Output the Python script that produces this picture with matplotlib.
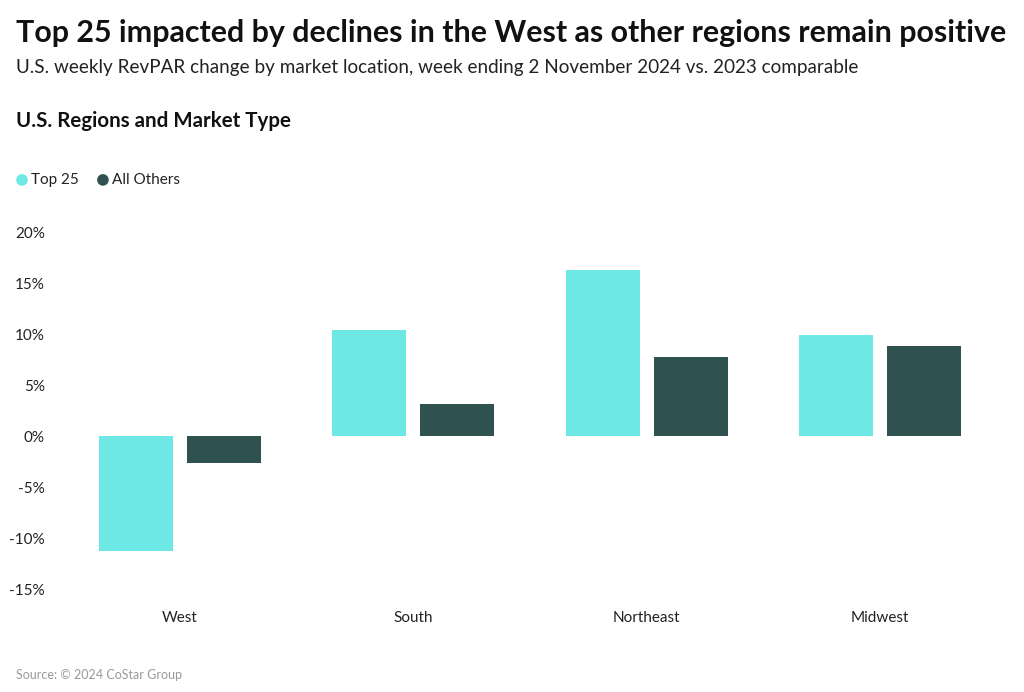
import numpy as np
import matplotlib.pyplot as plt

plt.rcParams['font.family'] = ['Lato', 'DejaVu Sans']

regions = ['West', 'South', 'Northeast', 'Midwest']
top25 = [-11.3, 10.5, 16.4, 10.0]
others = [-2.6, 3.2, 7.8, 8.9]
yticks = [-15, -10, -5, 0, 5, 10, 15, 20]

C_TOP = '#6de8e5'
C_OTH = '#2f5250'

fig = plt.figure(figsize=(10.24, 6.92), dpi=100, facecolor='white')
ax = fig.add_axes([0.0615, 0.1488, 0.912, 0.5145])

x = np.arange(len(regions))
w = 0.317
ax.bar(x - 0.188, top25, w, color=C_TOP)
ax.bar(x + 0.188, others, w, color=C_OTH)

ax.set_xlim(-0.5, len(regions) - 0.5)
ax.set_ylim(-15, 20)
ax.set_yticks(yticks)
ax.set_yticklabels([f'{v}%' for v in yticks])
ax.set_xticks(x)
ax.set_xticklabels(regions)
for s in ax.spines.values():
    s.set_visible(False)
ax.tick_params(length=0, labelsize=11, colors='#222222')
ax.tick_params(axis='y', pad=13)
ax.tick_params(axis='x', pad=16)

fig.text(0.016, 0.952, 'Top 25 impacted by declines in the West as other regions remain positive',
         fontsize=21.9, fontweight='bold', va='center', color='#111111')
fig.text(0.016, 0.903, 'U.S. weekly RevPAR change by market location, week ending 2 November 2024 vs. 2023 comparable',
         fontsize=13.6, va='center', color='#222222')
fig.text(0.016, 0.825, 'U.S. Regions and Market Type',
         fontsize=14.8, fontweight='bold', va='center', color='#111111')

# legend
lax = fig.add_axes([0, 0, 1, 1], frameon=False)
lax.set_xlim(0, 1)
lax.set_ylim(0, 1)
lax.set_axis_off()
lax.scatter([0.0215, 0.1005], [0.740, 0.740], s=70, c=[C_TOP, C_OTH], linewidths=0)
lax.text(0.030, 0.740, 'Top 25', fontsize=11, va='center', color='#222222')
lax.text(0.109, 0.740, 'All Others', fontsize=11, va='center', color='#222222')

fig.text(0.016, 0.024, 'Source: © 2024 CoStar Group', fontsize=9, va='center', color='#999999')

fig.savefig('out.png', dpi=100)
